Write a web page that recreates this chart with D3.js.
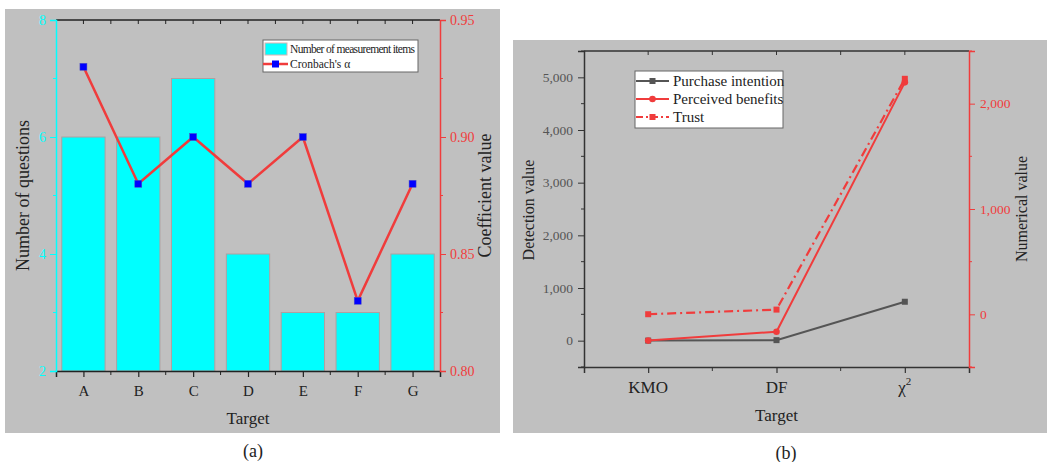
<!DOCTYPE html>
<html>
<head>
<meta charset="utf-8">
<script src="https://cdn.jsdelivr.net/npm/d3@7"></script>
<style>
  body { margin: 0; background: #fff; }
  svg text { font-family: "Liberation Serif", "DejaVu Serif", "Times New Roman", serif !important; }
</style>
</head>
<body>
<svg width="1047" height="462"></svg>
<script>
// panel (a) data
const targetsA = ["A", "B", "C", "D", "E", "F", "G"];
const itemCounts = [6, 6, 7, 4, 3, 3, 4];
const cronbach = [0.93, 0.88, 0.90, 0.88, 0.90, 0.83, 0.88];
const leftTicksA = [2, 4, 6, 8];
const rightTicksA = [0.80, 0.85, 0.90, 0.95];

// panel (b) data
const targetsB = ["KMO", "DF", "χ2"];
const purchase = [1, 10, 739];
const benefits = [1, 170, 4905];
const trust = [1, 45, 2236];
const leftTicksB = [0, 1000, 2000, 3000, 4000, 5000];
const rightTicksB = [0, 1000, 2000];

const RED = "#f03c3c", CYAN = "#00ffff", BG = "#c0c0c0";
const svg = d3.select("svg");

// ---------- panel (a) ----------
svg.append("rect").attr("x", 5).attr("y", 9).attr("width", 495).attr("height", 424).attr("fill", BG);

let m = {left: 56, right: 440, top: 20, bottom: 371};
let xc = d3.scalePoint().domain(targetsA).range([m.left, m.right]).padding(0.5);
let yL = d3.scaleLinear().domain([2, 8]).range([m.bottom, m.top]);
let yR = d3.scaleLinear().domain([0.80, 0.95]).range([m.bottom, m.top]);

let step = (m.right - m.left) / targetsA.length;
let bw = step * 0.79;

let g = svg.append("g");
g.selectAll("rect.bar")
  .data(itemCounts)
  .enter().append("rect")
  .attr("class", "bar")
  .attr("x", (d, i) => xc(targetsA[i]) - bw / 2)
  .attr("y", d => yL(d))
  .attr("width", bw)
  .attr("height", d => yL(2) - yL(d))
  .attr("fill", CYAN)
  .attr("stroke", "#b0a0a0")
  .attr("stroke-width", 1);

// top & bottom axes
let catTicks = targetsA.map(t => xc(t));
let minorX = d3.range(1, targetsA.length).map(i => m.left + i * step);

let xb = g.append("g").attr("transform", `translate(0,${m.bottom})`)
  .call(d3.axisBottom(xc).tickSize(6).tickPadding(8));
xb.select(".domain").attr("stroke", "#222").attr("stroke-width", 1.5);
xb.selectAll(".tick line").attr("stroke", "#222").attr("stroke-width", 1.2);
xb.selectAll(".tick text").attr("font-size", 15).attr("fill", "#222");
minorX.forEach(px => g.append("line").attr("x1", px).attr("x2", px).attr("y1", m.bottom).attr("y2", m.bottom + 4).attr("stroke", "#222"));

g.append("line").attr("x1", m.left).attr("x2", m.right).attr("y1", m.top).attr("y2", m.top).attr("stroke", "#222").attr("stroke-width", 1.5);
catTicks.concat(minorX).forEach(px => g.append("line").attr("x1", px).attr("x2", px).attr("y1", m.top).attr("y2", m.top + 4).attr("stroke", "#222"));

// left axis (cyan)
let yla = g.append("g").attr("transform", `translate(${m.left},0)`)
  .call(d3.axisLeft(yL).tickValues(leftTicksA).tickSize(6).tickPadding(4).tickFormat(d3.format("d")));
yla.select(".domain").attr("stroke", CYAN).attr("stroke-width", 1.5);
yla.selectAll(".tick line").attr("stroke", CYAN);
yla.selectAll(".tick text").attr("font-size", 14).attr("fill", CYAN);
[3, 5, 7].forEach(v => g.append("line").attr("x1", m.left - 3).attr("x2", m.left).attr("y1", yL(v)).attr("y2", yL(v)).attr("stroke", CYAN));

// right axis (red)
let yra = g.append("g").attr("transform", `translate(${m.right},0)`)
  .call(d3.axisRight(yR).tickValues(rightTicksA).tickSize(6).tickPadding(4).tickFormat(d3.format(".2f")));
yra.select(".domain").attr("stroke", RED).attr("stroke-width", 1.5);
yra.selectAll(".tick line").attr("stroke", RED);
yra.selectAll(".tick text").attr("font-size", 14).attr("fill", RED);
[0.825, 0.875, 0.925].forEach(v => g.append("line").attr("x1", m.right).attr("x2", m.right + 3).attr("y1", yR(v)).attr("y2", yR(v)).attr("stroke", RED));

// Cronbach line
let lineA = d3.line().x((d, i) => xc(targetsA[i])).y(d => yR(d));
g.append("path").datum(cronbach).attr("d", lineA).attr("fill", "none").attr("stroke", RED).attr("stroke-width", 2.5);
g.selectAll("rect.mk").data(cronbach).enter().append("rect")
  .attr("x", (d, i) => xc(targetsA[i]) - 3.5).attr("y", d => yR(d) - 3.5)
  .attr("width", 7).attr("height", 7).attr("fill", "#0000ff").attr("stroke", "#5050c0").attr("stroke-width", 0.5);

// titles
g.append("text").attr("transform", `translate(29,${(m.top + m.bottom) / 2}) rotate(-90)`)
  .attr("text-anchor", "middle").attr("font-size", 18).attr("fill", "#222").text("Number of questions");
g.append("text").attr("transform", `translate(491,${(m.top + m.bottom) / 2}) rotate(-90)`)
  .attr("text-anchor", "middle").attr("font-size", 18).attr("fill", "#222").text("Coefficient value");
g.append("text").attr("x", (m.left + m.right) / 2).attr("y", 424).attr("text-anchor", "middle")
  .attr("font-size", 17).attr("fill", "#222").text("Target");
svg.append("text").attr("x", 253).attr("y", 457).attr("text-anchor", "middle").attr("font-size", 18).attr("fill", "#222").text("(a)");

// legend (a)
let lg = g.append("g").attr("transform", "translate(263,40)");
lg.append("rect").attr("width", 155).attr("height", 32).attr("fill", "#fff").attr("stroke", "#666");
lg.append("rect").attr("x", 2).attr("y", 3).attr("width", 22).attr("height", 12).attr("fill", CYAN).attr("stroke", "#e0b0b0");
lg.append("text").attr("x", 27).attr("y", 13).attr("font-size", 11.5).attr("textLength", 125).attr("fill", "#222").text("Number of measurement items");
lg.append("line").attr("x1", 0).attr("x2", 25).attr("y1", 24).attr("y2", 24).attr("stroke", RED).attr("stroke-width", 2.5);
lg.append("rect").attr("x", 9).attr("y", 20.5).attr("width", 7).attr("height", 7).attr("fill", "#0000ff");
lg.append("text").attr("x", 27).attr("y", 28).attr("font-size", 11.5).attr("fill", "#222").text("Cronbach's α");

// ---------- panel (b) ----------
svg.append("rect").attr("x", 513).attr("y", 40).attr("width", 534).attr("height", 393).attr("fill", BG);

let n = {left: 584, right: 969, top: 51, bottom: 367};
let xp = d3.scalePoint().domain(targetsB).range([n.left, n.right]).padding(0.5);
let yL2 = d3.scaleLinear().domain([-500, 5500]).range([n.bottom, n.top]);
let yR2 = d3.scaleLinear().domain([-500, 2500]).range([n.bottom, n.top]);
let stepB = (n.right - n.left) / targetsB.length;

let h = svg.append("g");
let xb2 = h.append("g").attr("transform", `translate(0,${n.bottom})`)
  .call(d3.axisBottom(xp).tickSize(6).tickPadding(10));
xb2.select(".domain").attr("stroke", "#333").attr("stroke-width", 1.5);
xb2.selectAll(".tick line").attr("stroke", "#333").attr("stroke-width", 1.2);
xb2.selectAll(".tick text").remove();
targetsB.forEach(t => {
  let tx = h.append("text").attr("x", xp(t)).attr("y", n.bottom + 26).attr("text-anchor", "middle")
    .attr("font-size", 17).attr("fill", "#222");
  if (t === "χ2") {
    tx.append("tspan").text("χ");
    tx.append("tspan").attr("dy", -8).attr("font-size", 11).text("2");
  } else tx.text(t);
});
let minorXB = d3.range(1, targetsB.length).map(i => n.left + i * stepB);
minorXB.forEach(px => h.append("line").attr("x1", px).attr("x2", px).attr("y1", n.bottom).attr("y2", n.bottom + 4).attr("stroke", "#333"));

h.append("line").attr("x1", n.left).attr("x2", n.right).attr("y1", n.top).attr("y2", n.top).attr("stroke", "#333").attr("stroke-width", 1.5);
targetsB.map(t => xp(t)).concat(minorXB).forEach(px => h.append("line").attr("x1", px).attr("x2", px).attr("y1", n.top).attr("y2", n.top + 4).attr("stroke", "#333"));

let fmt = d3.format(",");
let yl2 = h.append("g").attr("transform", `translate(${n.left},0)`)
  .call(d3.axisLeft(yL2).tickValues(leftTicksB).tickSize(6).tickPadding(5).tickFormat(fmt));
yl2.select(".domain").attr("stroke", "#333").attr("stroke-width", 1.5);
yl2.selectAll(".tick line").attr("stroke", "#333");
yl2.selectAll(".tick text").attr("font-size", 13.5).attr("fill", "#555");
d3.range(-500, 5501, 1000).forEach(v => h.append("line").attr("x1", n.left - 3).attr("x2", n.left).attr("y1", yL2(v)).attr("y2", yL2(v)).attr("stroke", "#333"));

let yr2 = h.append("g").attr("transform", `translate(${n.right},0)`)
  .call(d3.axisRight(yR2).tickValues(rightTicksB).tickSize(6).tickPadding(5).tickFormat(fmt));
yr2.select(".domain").attr("stroke", RED).attr("stroke-width", 1.5);
yr2.selectAll(".tick line").attr("stroke", RED);
yr2.selectAll(".tick text").attr("font-size", 13.5).attr("fill", RED);
d3.range(-500, 2501, 1000).forEach(v => h.append("line").attr("x1", n.right).attr("x2", n.right + 3).attr("y1", yR2(v)).attr("y2", yR2(v)).attr("stroke", RED));

// series
const GRAY = "#555";
let lineL = d3.line().x((d, i) => xp(targetsB[i])).y(d => yL2(d));
let lineR = d3.line().x((d, i) => xp(targetsB[i])).y(d => yR2(d));

h.append("path").datum(purchase).attr("d", lineL).attr("fill", "none").attr("stroke", GRAY).attr("stroke-width", 2);
h.selectAll("rect.pi").data(purchase).enter().append("rect")
  .attr("x", (d, i) => xp(targetsB[i]) - 3).attr("y", d => yL2(d) - 3).attr("width", 6).attr("height", 6).attr("fill", GRAY);

h.append("path").datum(trust).attr("d", lineR).attr("fill", "none").attr("stroke", RED).attr("stroke-width", 2.2)
  .attr("stroke-dasharray", "9,4,2,4");
h.selectAll("rect.tr").data(trust).enter().append("rect")
  .attr("x", (d, i) => xp(targetsB[i]) - 3).attr("y", d => yR2(d) - 3).attr("width", 6).attr("height", 6).attr("fill", RED);

h.append("path").datum(benefits).attr("d", lineL).attr("fill", "none").attr("stroke", RED).attr("stroke-width", 2);
h.selectAll("circle.pb").data(benefits).enter().append("circle")
  .attr("cx", (d, i) => xp(targetsB[i])).attr("cy", d => yL2(d)).attr("r", 3.3).attr("fill", RED);

// titles
h.append("text").attr("transform", `translate(534,${(n.top + n.bottom) / 2 + 1}) rotate(-90)`)
  .attr("text-anchor", "middle").attr("font-size", 16).attr("fill", "#222").text("Detection value");
h.append("text").attr("transform", `translate(1027,${(n.top + n.bottom) / 2}) rotate(-90)`)
  .attr("text-anchor", "middle").attr("font-size", 16).attr("fill", "#222").text("Numerical value");
h.append("text").attr("x", xp("DF")).attr("y", 421).attr("text-anchor", "middle").attr("font-size", 17).attr("fill", "#222").text("Target");
svg.append("text").attr("x", 786).attr("y", 459).attr("text-anchor", "middle").attr("font-size", 18).attr("fill", "#222").text("(b)");

// legend (b)
let lb = h.append("g").attr("transform", "translate(635,71)");
lb.append("rect").attr("width", 148).attr("height", 57).attr("fill", "#fff").attr("stroke", "#666");
const legB = [
  {name: "Purchase intention", color: GRAY, dash: null, shape: "sq"},
  {name: "Perceived benefits", color: RED, dash: null, shape: "ci"},
  {name: "Trust", color: RED, dash: "7,3,2,3", shape: "sq"}
];
legB.forEach((e, i) => {
  let yy = 10 + i * 18;
  lb.append("line").attr("x1", 1).attr("x2", 34).attr("y1", yy).attr("y2", yy).attr("stroke", e.color).attr("stroke-width", 2)
    .attr("stroke-dasharray", e.dash);
  if (e.shape === "sq") lb.append("rect").attr("x", 14.5).attr("y", yy - 3).attr("width", 6).attr("height", 6).attr("fill", e.color);
  else lb.append("circle").attr("cx", 17.5).attr("cy", yy).attr("r", 3.3).attr("fill", e.color);
  lb.append("text").attr("x", 38).attr("y", yy + 5).attr("font-size", 15).attr("fill", "#222").text(e.name);
});
</script>
</body>
</html>
